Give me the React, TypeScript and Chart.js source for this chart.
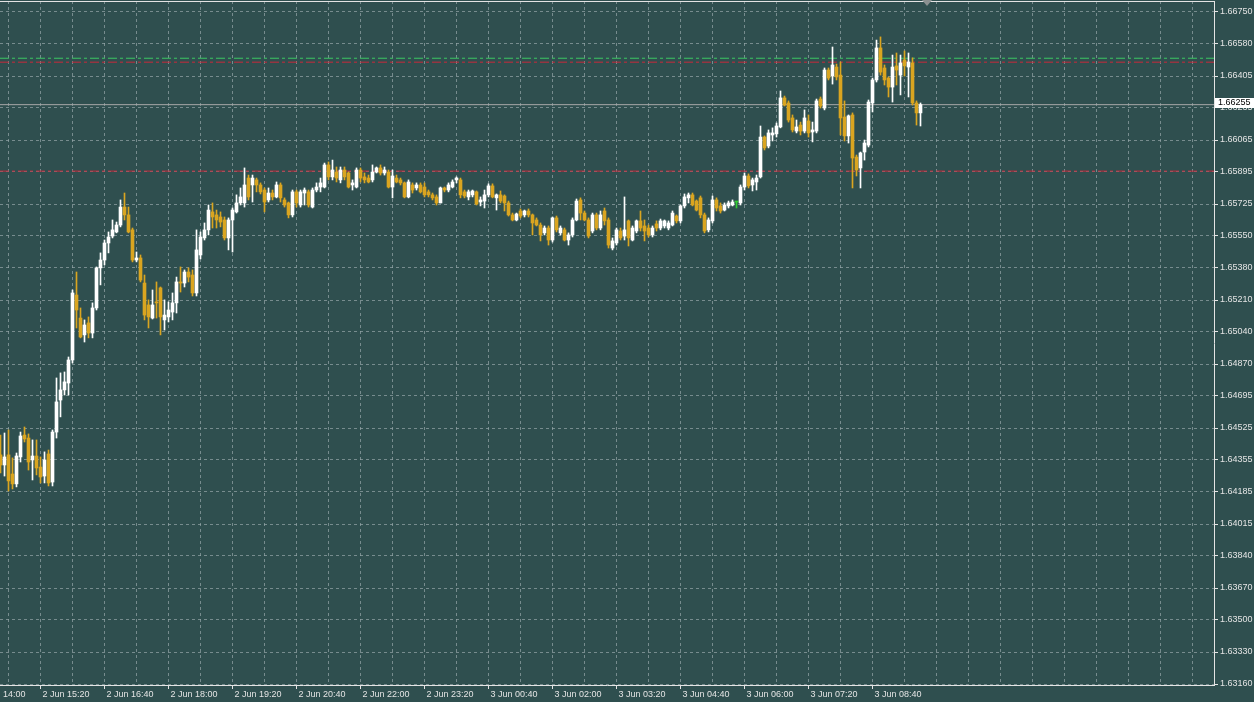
import React, { useEffect, useRef } from 'react';
import { Chart, registerables } from 'chart.js';

Chart.register(...registerables);

// ---- 5-minute OHLC bars, 2 Jun 14:30 .. 3 Jun 09:40 ----
const opens = [
  1.64384, 1.64330, 1.64384, 1.64282, 1.64229, 1.64373, 1.64490, 1.64474, 1.64357, 1.64378,
  1.64319, 1.64271, 1.64389, 1.64239, 1.64506, 1.64677, 1.64731, 1.64768, 1.64891, 1.65238,
  1.65115, 1.65025, 1.65089, 1.65035, 1.65169, 1.65383, 1.65425, 1.65516, 1.65553, 1.65575,
  1.65612, 1.65708, 1.65666, 1.65586, 1.65425, 1.65436, 1.65302, 1.65185, 1.65115, 1.65201,
  1.65276, 1.65105, 1.65121, 1.65147, 1.65196, 1.65308, 1.65302, 1.65361, 1.65345, 1.65249,
  1.65452, 1.65543, 1.65586, 1.65682, 1.65666, 1.65655, 1.65639, 1.65543, 1.65639, 1.65682,
  1.65730, 1.65730, 1.65863, 1.65826, 1.65853, 1.65826, 1.65799, 1.65746, 1.65783, 1.65762,
  1.65826, 1.65746, 1.65730, 1.65666, 1.65789, 1.65719, 1.65783, 1.65789, 1.65708, 1.65799,
  1.65815, 1.65815, 1.65933, 1.65869, 1.65895, 1.65853, 1.65906, 1.65890, 1.65826, 1.65815,
  1.65906, 1.65869, 1.65863, 1.65853, 1.65895, 1.65917, 1.65890, 1.65895, 1.65815, 1.65863,
  1.65853, 1.65837, 1.65762, 1.65826, 1.65810, 1.65826, 1.65815, 1.65789, 1.65773, 1.65762,
  1.65730, 1.65810, 1.65799, 1.65815, 1.65853, 1.65853, 1.65789, 1.65762, 1.65773, 1.65789,
  1.65735, 1.65740, 1.65773, 1.65821, 1.65757, 1.65773, 1.65767, 1.65730, 1.65666, 1.65639,
  1.65687, 1.65666, 1.65687, 1.65666, 1.65639, 1.65612, 1.65570, 1.65596, 1.65532, 1.65650,
  1.65570, 1.65586, 1.65532, 1.65559, 1.65639, 1.65746, 1.65676, 1.65639, 1.65580, 1.65666,
  1.65596, 1.65687, 1.65639, 1.65489, 1.65516, 1.65580, 1.65553, 1.65634, 1.65532, 1.65580,
  1.65634, 1.65607, 1.65596, 1.65559, 1.65618, 1.65596, 1.65607, 1.65596, 1.65612, 1.65660,
  1.65634, 1.65714, 1.65757, 1.65773, 1.65740, 1.65757, 1.65666, 1.65586, 1.65634, 1.65746,
  1.65714, 1.65692, 1.65714, 1.65719, 1.65735, 1.65730, 1.65815, 1.65874, 1.65826, 1.65842,
  1.65869, 1.66082, 1.66034, 1.66093, 1.66099, 1.66136, 1.66291, 1.66264, 1.66184, 1.66114,
  1.66146, 1.66114, 1.66168, 1.66109, 1.66114, 1.66285, 1.66237, 1.66440, 1.66408, 1.66456,
  1.66413, 1.66189, 1.66088, 1.66200, 1.65975, 1.65917, 1.66002, 1.66039, 1.66264, 1.66387,
  1.66558, 1.66451, 1.66397, 1.66349, 1.66462, 1.66413, 1.66494, 1.66456, 1.66478, 1.66264,
  1.66211,
];
const highs = [
  1.64490, 1.64501, 1.64517, 1.64368, 1.64394, 1.64506, 1.64533, 1.64496, 1.64464, 1.64464,
  1.64373, 1.64400, 1.64410, 1.64517, 1.64795, 1.64822, 1.64827, 1.64907, 1.65265, 1.65361,
  1.65169, 1.65105, 1.65121, 1.65196, 1.65388, 1.65463, 1.65532, 1.65575, 1.65639, 1.65628,
  1.65746, 1.65783, 1.65708, 1.65596, 1.65468, 1.65452, 1.65345, 1.65212, 1.65265, 1.65308,
  1.65281, 1.65212, 1.65201, 1.65249, 1.65334, 1.65388, 1.65372, 1.65383, 1.65372, 1.65586,
  1.65575, 1.65623, 1.65719, 1.65730, 1.65692, 1.65682, 1.65655, 1.65650, 1.65703, 1.65773,
  1.65810, 1.65917, 1.65879, 1.65879, 1.65863, 1.65837, 1.65810, 1.65810, 1.65799, 1.65842,
  1.65837, 1.65757, 1.65735, 1.65799, 1.65799, 1.65799, 1.65810, 1.65799, 1.65810, 1.65837,
  1.65863, 1.65943, 1.65949, 1.65959, 1.65922, 1.65922, 1.65922, 1.65895, 1.65853, 1.65917,
  1.65917, 1.65890, 1.65879, 1.65933, 1.65922, 1.65933, 1.65922, 1.65906, 1.65906, 1.65879,
  1.65863, 1.65842, 1.65853, 1.65837, 1.65837, 1.65837, 1.65837, 1.65799, 1.65783, 1.65773,
  1.65815, 1.65815, 1.65837, 1.65853, 1.65869, 1.65863, 1.65799, 1.65799, 1.65799, 1.65794,
  1.65762, 1.65799, 1.65832, 1.65832, 1.65778, 1.65794, 1.65773, 1.65740, 1.65676, 1.65676,
  1.65698, 1.65692, 1.65698, 1.65671, 1.65650, 1.65623, 1.65607, 1.65607, 1.65655, 1.65660,
  1.65607, 1.65596, 1.65570, 1.65650, 1.65751, 1.65757, 1.65687, 1.65650, 1.65676, 1.65676,
  1.65687, 1.65703, 1.65650, 1.65543, 1.65596, 1.65596, 1.65762, 1.65639, 1.65607, 1.65639,
  1.65687, 1.65639, 1.65612, 1.65607, 1.65634, 1.65644, 1.65639, 1.65634, 1.65687, 1.65666,
  1.65719, 1.65778, 1.65783, 1.65783, 1.65746, 1.65767, 1.65676, 1.65650, 1.65767, 1.65757,
  1.65730, 1.65730, 1.65740, 1.65746, 1.65735, 1.65826, 1.65890, 1.65885, 1.65863, 1.65879,
  1.66141, 1.66088, 1.66120, 1.66131, 1.66157, 1.66328, 1.66301, 1.66275, 1.66200, 1.66173,
  1.66162, 1.66227, 1.66200, 1.66162, 1.66285, 1.66296, 1.66451, 1.66451, 1.66563, 1.66472,
  1.66483, 1.66275, 1.66200, 1.66211, 1.65986, 1.66002, 1.66066, 1.66280, 1.66397, 1.66600,
  1.66617, 1.66467, 1.66403, 1.66520, 1.66531, 1.66520, 1.66542, 1.66531, 1.66505, 1.66275,
  1.66264,
];
const lows = [
  1.64287, 1.64271, 1.64191, 1.64202, 1.64213, 1.64346, 1.64453, 1.64303, 1.64250, 1.64277,
  1.64234, 1.64234, 1.64218, 1.64218, 1.64474, 1.64587, 1.64704, 1.64704, 1.64875, 1.65062,
  1.65009, 1.64987, 1.65009, 1.65009, 1.65158, 1.65292, 1.65399, 1.65463, 1.65543, 1.65570,
  1.65602, 1.65639, 1.65570, 1.65415, 1.65415, 1.65308, 1.65105, 1.65062, 1.65110, 1.65115,
  1.65025, 1.65051, 1.65094, 1.65105, 1.65142, 1.65254, 1.65281, 1.65308, 1.65233, 1.65233,
  1.65431, 1.65532, 1.65559, 1.65596, 1.65596, 1.65602, 1.65532, 1.65479, 1.65468, 1.65676,
  1.65719, 1.65708, 1.65746, 1.65735, 1.65789, 1.65778, 1.65682, 1.65735, 1.65746, 1.65757,
  1.65735, 1.65708, 1.65650, 1.65655, 1.65708, 1.65708, 1.65719, 1.65708, 1.65703, 1.65789,
  1.65789, 1.65810, 1.65853, 1.65853, 1.65842, 1.65837, 1.65853, 1.65810, 1.65799, 1.65810,
  1.65842, 1.65837, 1.65837, 1.65842, 1.65890, 1.65879, 1.65879, 1.65810, 1.65757, 1.65837,
  1.65826, 1.65757, 1.65757, 1.65783, 1.65799, 1.65783, 1.65762, 1.65762, 1.65746, 1.65719,
  1.65730, 1.65789, 1.65789, 1.65810, 1.65837, 1.65757, 1.65757, 1.65746, 1.65762, 1.65719,
  1.65714, 1.65703, 1.65762, 1.65757, 1.65692, 1.65730, 1.65687, 1.65660, 1.65634, 1.65634,
  1.65650, 1.65655, 1.65655, 1.65559, 1.65607, 1.65527, 1.65559, 1.65505, 1.65521, 1.65575,
  1.65559, 1.65527, 1.65505, 1.65548, 1.65634, 1.65639, 1.65634, 1.65543, 1.65570, 1.65586,
  1.65586, 1.65612, 1.65489, 1.65479, 1.65505, 1.65532, 1.65532, 1.65500, 1.65527, 1.65570,
  1.65580, 1.65527, 1.65548, 1.65548, 1.65580, 1.65586, 1.65596, 1.65586, 1.65607, 1.65623,
  1.65623, 1.65703, 1.65730, 1.65714, 1.65687, 1.65650, 1.65570, 1.65575, 1.65623, 1.65687,
  1.65676, 1.65687, 1.65703, 1.65714, 1.65703, 1.65719, 1.65799, 1.65810, 1.65794, 1.65799,
  1.65863, 1.66013, 1.66024, 1.66061, 1.66082, 1.66131, 1.66248, 1.66162, 1.66109, 1.66104,
  1.66093, 1.66104, 1.66082, 1.66056, 1.66104, 1.66237, 1.66227, 1.66387, 1.66365, 1.66387,
  1.66093, 1.66061, 1.66050, 1.65810, 1.65874, 1.65810, 1.65959, 1.66029, 1.66216, 1.66376,
  1.66413, 1.66360, 1.66296, 1.66269, 1.66360, 1.66307, 1.66408, 1.66296, 1.66253, 1.66146,
  1.66141,
];
const closes = [
  1.64330, 1.64373, 1.64245, 1.64229, 1.64378, 1.64485, 1.64469, 1.64346, 1.64378, 1.64314,
  1.64266, 1.64357, 1.64234, 1.64506, 1.64667, 1.64731, 1.64774, 1.64891, 1.65249, 1.65158,
  1.65014, 1.65078, 1.65035, 1.65169, 1.65383, 1.65425, 1.65516, 1.65548, 1.65586, 1.65612,
  1.65708, 1.65666, 1.65575, 1.65425, 1.65436, 1.65318, 1.65131, 1.65121, 1.65185, 1.65196,
  1.65121, 1.65131, 1.65158, 1.65196, 1.65308, 1.65302, 1.65361, 1.65334, 1.65249, 1.65479,
  1.65548, 1.65586, 1.65692, 1.65655, 1.65639, 1.65628, 1.65543, 1.65639, 1.65692, 1.65730,
  1.65762, 1.65826, 1.65762, 1.65863, 1.65826, 1.65789, 1.65735, 1.65783, 1.65762, 1.65826,
  1.65757, 1.65719, 1.65666, 1.65789, 1.65730, 1.65789, 1.65799, 1.65719, 1.65799, 1.65815,
  1.65837, 1.65933, 1.65869, 1.65906, 1.65863, 1.65906, 1.65869, 1.65815, 1.65837, 1.65906,
  1.65863, 1.65853, 1.65842, 1.65895, 1.65917, 1.65890, 1.65906, 1.65815, 1.65874, 1.65842,
  1.65837, 1.65762, 1.65842, 1.65799, 1.65826, 1.65789, 1.65773, 1.65773, 1.65757, 1.65730,
  1.65810, 1.65799, 1.65826, 1.65842, 1.65863, 1.65773, 1.65767, 1.65789, 1.65794, 1.65724,
  1.65746, 1.65773, 1.65821, 1.65762, 1.65773, 1.65740, 1.65730, 1.65666, 1.65639, 1.65671,
  1.65660, 1.65687, 1.65666, 1.65623, 1.65612, 1.65559, 1.65596, 1.65532, 1.65650, 1.65586,
  1.65596, 1.65532, 1.65559, 1.65639, 1.65740, 1.65676, 1.65639, 1.65553, 1.65666, 1.65596,
  1.65666, 1.65634, 1.65505, 1.65527, 1.65586, 1.65543, 1.65586, 1.65543, 1.65596, 1.65634,
  1.65596, 1.65580, 1.65559, 1.65596, 1.65596, 1.65634, 1.65634, 1.65623, 1.65676, 1.65634,
  1.65714, 1.65762, 1.65773, 1.65719, 1.65692, 1.65666, 1.65580, 1.65639, 1.65746, 1.65703,
  1.65687, 1.65719, 1.65730, 1.65735, 1.65735, 1.65815, 1.65874, 1.65821, 1.65853, 1.65863,
  1.66082, 1.66024, 1.66104, 1.66104, 1.66141, 1.66291, 1.66253, 1.66173, 1.66120, 1.66136,
  1.66114, 1.66184, 1.66104, 1.66120, 1.66275, 1.66248, 1.66440, 1.66397, 1.66467, 1.66403,
  1.66184, 1.66088, 1.66195, 1.65970, 1.65906, 1.65997, 1.66050, 1.66269, 1.66387, 1.66558,
  1.66429, 1.66387, 1.66349, 1.66456, 1.66440, 1.66478, 1.66462, 1.66483, 1.66264, 1.66211,
  1.66255,
];

// ---- axis text ----
const xTickLabels = [
  '2 Jun 14:00', '2 Jun 15:20', '2 Jun 16:40', '2 Jun 18:00', '2 Jun 19:20',
  '2 Jun 20:40', '2 Jun 22:00', '2 Jun 23:20', '3 Jun 00:40', '3 Jun 02:00',
  '3 Jun 03:20', '3 Jun 04:40', '3 Jun 06:00', '3 Jun 07:20', '3 Jun 08:40',
];
const xFirstLabelBar = -6; // bar index of "2 Jun 14:00" (first bar is 14:30)
const xLabelEvery = 16; // bars between time labels
const xGridEvery = 8; // bars between vertical grid lines

const yTickLabels = [
  '1.66750', '1.66580', '1.66405', '1.66235', '1.66065', '1.65895', '1.65725', '1.65550',
  '1.65380', '1.65210', '1.65040', '1.64870', '1.64695', '1.64525', '1.64355', '1.64185',
  '1.64015', '1.63840', '1.63670', '1.63500', '1.63330', '1.63160',
];
const yAxisTop = 1.6675;
const yAxisBottom = 1.6316;

// ---- price levels ----
const bidPrice = 1.66255;
const bidLabel = '1.66255';
const levelGreen = 1.66503;
const levelRedUpper = 1.66482;
const levelRedLower = 1.659;

const BG = '#2F4F4F';
const BULL = '#FFFFFF';
const BEAR = '#DAA520';
const DOJI = '#32CD32';
const GRID = 'rgba(150,166,170,0.7)';
const FG = '#E4E4E4';
const FONT = { family: '"Liberation Sans", Arial, sans-serif', size: 9 };

export default function App() {
  const ref = useRef<HTMLCanvasElement>(null);

  useEffect(() => {
    document.body.style.margin = '0';
    document.body.style.background = BG;
    const canvas = ref.current;
    if (!canvas) return;

    const n = opens.length;
    const idx = Array.from({ length: n }, (_, i) => i);
    const colorOf = (i: number) =>
      closes[i] > opens[i] ? BULL : closes[i] < opens[i] ? BEAR : DOJI;

    // visible window: bar i centred at 0.5 + 4i px, plot 1214px wide, 684px tall
    const xMin = -0.125;
    const xMax = 303.375;
    const yStep = (yAxisTop - yAxisBottom) / (yTickLabels.length - 1);
    const yMax = yAxisTop + (yStep * 11) / 32;
    const yMin = yAxisBottom - yStep / 32;

    const xTickValues: number[] = [];
    for (let v = xFirstLabelBar; v <= xMax; v += xGridEvery) xTickValues.push(v);
    const xLabelFor = (v: number) => {
      const k = (v - xFirstLabelBar) / xLabelEvery;
      return Number.isInteger(k) && k >= 0 && k < xTickLabels.length ? xTickLabels[k] : '';
    };

    const hLine = (y: number, color: string, dash: number[], order: number) => ({
      type: 'line' as const,
      data: [
        { x: xMin, y },
        { x: xMax, y },
      ],
      borderColor: color,
      borderWidth: 1,
      borderDash: dash,
      pointRadius: 0,
      fill: false,
      order,
    });

    const bgPlugin = {
      id: 'bgFill',
      beforeDraw(chart: any) {
        const ctx = chart.ctx;
        ctx.save();
        ctx.fillStyle = BG;
        ctx.fillRect(0, 0, chart.width, chart.height);
        ctx.restore();
      },
    };

    const overlayPlugin = {
      id: 'overlay',
      afterDraw(chart: any) {
        const ctx = chart.ctx;
        const area = chart.chartArea;
        const ys = chart.scales.y;
        const xs = chart.scales.x;
        ctx.save();
        // top frame line
        ctx.fillStyle = FG;
        ctx.fillRect(0, Math.round(area.top), Math.round(area.right) + 1, 1);
        // current price label
        const yb = Math.round(ys.getPixelForValue(bidPrice));
        ctx.fillStyle = '#FFFFFF';
        ctx.fillRect(Math.round(area.right) + 1, yb - 7, chart.width - area.right, 10);
        ctx.fillStyle = '#000000';
        ctx.font = '9px "Liberation Sans", Arial, sans-serif';
        ctx.textBaseline = 'middle';
        ctx.textAlign = 'left';
        ctx.fillText(bidLabel, Math.round(area.right) + 4, yb - 2);
        // chart shift marker
        const sx = Math.round(xs.getPixelForValue(n + 0.7));
        ctx.fillStyle = '#8a9090';
        ctx.beginPath();
        ctx.moveTo(sx - 5, 0);
        ctx.lineTo(sx + 5, 0);
        ctx.lineTo(sx, 6);
        ctx.closePath();
        ctx.fill();
        ctx.restore();
      },
    };

    const chart = new Chart(canvas, {
      type: 'bar',
      data: {
        datasets: [
          {
            label: 'body',
            data: idx.map((i) => ({ x: i, y: [opens[i], closes[i]] })),
            backgroundColor: (c: any) => colorOf(c.dataIndex),
            borderWidth: 0,
            barThickness: 3,
            minBarLength: 1,
            grouped: false,
            order: 1,
          } as any,
          {
            label: 'wick',
            data: idx.map((i) => ({ x: i, y: [lows[i], highs[i]] })),
            backgroundColor: (c: any) => colorOf(c.dataIndex),
            borderWidth: 0,
            barThickness: 1,
            minBarLength: 1,
            grouped: false,
            order: 2,
          } as any,
          hLine(bidPrice, '#A8A8A8', [], 3) as any,
          hLine(levelGreen, '#3CC864', [9, 3, 3, 3], 4) as any,
          hLine(levelRedUpper, '#C8283A', [9, 3, 3, 3], 5) as any,
          hLine(levelRedLower, '#C8283A', [9, 3, 3, 3], 6) as any,
        ],
      },
      options: {
        responsive: false,
        animation: false,
        devicePixelRatio: 1,
        events: [],
        layout: { padding: { top: 1, left: 0, right: 0, bottom: 0 }, autoPadding: false } as any,
        plugins: {
          legend: { display: false },
          tooltip: { enabled: false },
          title: { display: false },
        },
        scales: {
          x: {
            type: 'linear',
            min: xMin,
            max: xMax,
            bounds: 'data',
            offset: false,
            grid: {
              color: GRID,
              lineWidth: 1,
              offset: false,
              drawTicks: true,
              tickLength: 4,
              tickColor: (c: any) => (c.tick && c.tick.label ? FG : 'rgba(0,0,0,0)'),
            },
            border: { display: true, color: FG, width: 1, dash: [3, 3] },
            ticks: {
              autoSkip: false,
              maxRotation: 0,
              minRotation: 0,
              align: 'start',
              padding: 0,
              labelOffset: 2,
              color: FG,
              font: FONT,
              callback: (v: any) => xLabelFor(Number(v)),
            },
            afterBuildTicks: (s: any) => {
              s.ticks = xTickValues.map((v) => ({ value: v }));
            },
            afterFit: (s: any) => {
              s.height = 17;
              s.paddingLeft = 0;
              s.paddingRight = 0;
              s.paddingTop = 0;
              s.paddingBottom = 0;
            },
          } as any,
          y: {
            type: 'linear',
            position: 'right',
            min: yMin,
            max: yMax,
            bounds: 'data',
            grid: { color: GRID, lineWidth: 1, tickLength: 4, tickColor: FG },
            border: { display: true, color: FG, width: 1, dash: [3, 3] },
            ticks: {
              padding: 2,
              color: FG,
              font: FONT,
              autoSkip: false,
              callback: (_v: any, i: number) => yTickLabels[yTickLabels.length - 1 - i],
            },
            afterBuildTicks: (s: any) => {
              s.ticks = yTickLabels.map((_, k) => ({ value: yAxisBottom + k * yStep }));
            },
            afterFit: (s: any) => {
              s.width = 40;
              s.paddingLeft = 0;
              s.paddingRight = 0;
              s.paddingTop = 0;
              s.paddingBottom = 0;
            },
          } as any,
        },
      },
      plugins: [bgPlugin, overlayPlugin],
    });

    return () => chart.destroy();
  }, []);

  return (
    <canvas
      ref={ref}
      width={1254}
      height={702}
      style={{ display: 'block', width: 1254, height: 702 }}
    />
  );
}
